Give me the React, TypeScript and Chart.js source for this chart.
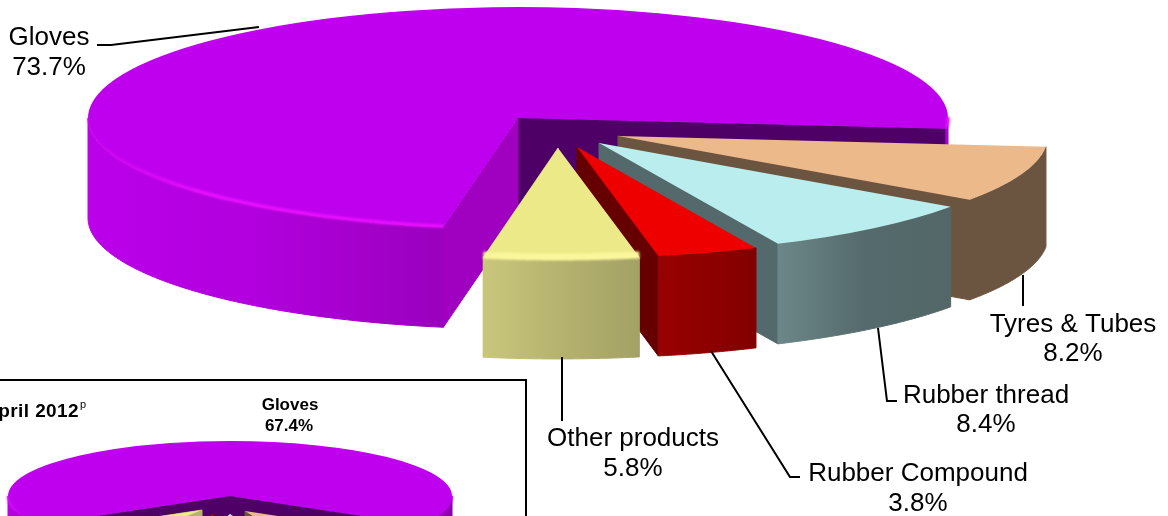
import React, { useEffect, useRef } from "react";
import { Chart } from "chart.js/auto";

// Full-year product shares
const productNames = ["Gloves", "Tyres & Tubes", "Rubber thread", "Rubber Compound", "Other products"];
const productShares = [73.7, 8.2, 8.4, 3.8, 5.8];
const shareLabels = ["73.7%", "8.2%", "8.4%", "3.8%", "5.8%"];

// Single-month product shares shown in the small panel
const monthShares = [67.4, 10.5, 10.0, 4.6, 7.5];
const monthTitle = "April 2012";
const monthGlovesLabel = "67.4%";

const topColors = ["#BE00EE", "#EBB98A", "#BAEDED", "#EE0000", "#ECEA88"];
const sideColors = ["#4E0066", "#6B5540", "#54696B", "#660000", "#B5B26F"];
const wallStops = [
  ["#BB00EA", "#B000DC", "#9A00BD"],
  ["#6B5540", "#6B5540"],
  ["#6C8789", "#556A6C", "#536769"],
  ["#990000", "#830000"],
  ["#C9C67C", "#B5B26F", "#A3A165"],
];

type PieStyle = {
  tilt: number;
  depth: number;
  cutColor: string;
  drift: number[][];
  rims: ({ stops: string[]; width: number; lift: number } | null)[];
  wallStops: string[][];
  sideColors: string[];
};

// Draws the extruded walls and rim highlights around the library's flat arcs,
// and squashes those arcs into an ellipse while they are painted.
function tiltedPie(style: PieStyle) {
  const { tilt, depth } = style;
  let pivot = 0;

  const project = (el: any, angle: number, drop = 0) => ({
    x: el.x + el.outerRadius * Math.cos(angle),
    y: pivot + tilt * (el.y + el.outerRadius * Math.sin(angle) - pivot) + drop,
  });
  const apex = (el: any, drop = 0) => ({ x: el.x, y: pivot + tilt * (el.y - pivot) + drop });

  const frontRanges = (el: any) => {
    const out: number[][] = [];
    for (let turn = 0; turn < 3; turn++) {
      const a = Math.max(el.startAngle, turn * 2 * Math.PI);
      const b = Math.min(el.endAngle, turn * 2 * Math.PI + Math.PI);
      if (b > a) out.push([a, b]);
    }
    return out;
  };
  const sample = (a: number, b: number) => {
    const n = 72;
    return Array.from({ length: n + 1 }, (_, i) => a + ((b - a) * i) / n);
  };
  const edgeWall = (ctx: CanvasRenderingContext2D, el: any, angle: number, color: string) => {
    const p = apex(el);
    const q = project(el, angle);
    ctx.fillStyle = color;
    ctx.strokeStyle = color;
    ctx.lineWidth = 1;
    ctx.beginPath();
    ctx.moveTo(p.x, p.y);
    ctx.lineTo(q.x, q.y);
    ctx.lineTo(q.x, q.y + depth);
    ctx.lineTo(p.x, p.y + depth);
    ctx.closePath();
    ctx.fill();
    ctx.stroke();
  };
  const xGradient = (ctx: CanvasRenderingContext2D, pts: { x: number }[], stops: string[]) => {
    const xs = pts.map((p) => p.x);
    const g = ctx.createLinearGradient(Math.min(...xs), 0, Math.max(...xs) + 0.01, 0);
    stops.forEach((c, i) => g.addColorStop(i / (stops.length - 1), c));
    return g;
  };

  return {
    id: "tiltedPie",
    afterDatasetsUpdate(chart: any) {
      const arcs = chart.getDatasetMeta(0).data;
      pivot = arcs[0].y;
      arcs.forEach((el: any, i: number) => {
        el.x += style.drift[i][0];
        el.y += style.drift[i][1] / tilt;
      });
    },
    beforeDatasetsDraw(chart: any) {
      const { ctx } = chart;
      const arcs = chart.getDatasetMeta(0).data;
      arcs.forEach((el: any, i: number) => {
        edgeWall(ctx, el, el.endAngle, style.sideColors[i]);
        if (i === 0) edgeWall(ctx, el, el.startAngle, style.cutColor);
        frontRanges(el).forEach(([a, b]) => {
          const top = sample(a, b).map((t) => project(el, t));
          const paint = xGradient(ctx, top, style.wallStops[i]);
          ctx.fillStyle = paint;
          ctx.strokeStyle = paint;
          ctx.lineWidth = 1;
          ctx.beginPath();
          top.forEach((p, k) => (k ? ctx.lineTo(p.x, p.y) : ctx.moveTo(p.x, p.y)));
          [...top].reverse().forEach((p) => ctx.lineTo(p.x, p.y + depth));
          ctx.closePath();
          ctx.fill();
          ctx.stroke();
        });
      });
      ctx.save();
      ctx.translate(0, pivot);
      ctx.scale(1, tilt);
      ctx.translate(0, -pivot);
    },
    afterDatasetsDraw(chart: any) {
      const { ctx } = chart;
      ctx.restore();
      const arcs = chart.getDatasetMeta(0).data;
      arcs.forEach((el: any, i: number) => {
        const rim = style.rims[i];
        if (!rim) return;
        frontRanges(el).forEach(([a, b]) => {
          const pts = sample(a, b).map((t) => project(el, t, rim.lift));
          ctx.save();
          ctx.filter = "blur(0.8px)";
          ctx.strokeStyle = xGradient(ctx, pts, rim.stops);
          ctx.lineWidth = rim.width;
          ctx.lineCap = "butt";
          ctx.beginPath();
          pts.forEach((p, k) => (k ? ctx.lineTo(p.x, p.y) : ctx.moveTo(p.x, p.y)));
          ctx.stroke();
          ctx.restore();
        });
      });
    },
  };
}

const LABEL_FONT = '26px "Liberation Sans", Arial, sans-serif';

// Callout text and leader lines for the main pie
const calloutLayout = [
  { x: 49, y: 38, vy: 68, line: [[97, 45], [111, 45], [259, 27]] },
  { x: 1073, y: 324.5, vy: 354, line: [[1023, 275], [1023, 306]] },
  { x: 986, y: 396, vy: 425, line: [[878, 328], [887, 401], [897, 401]] },
  { x: 918, y: 474, vy: 504, line: [[711, 351], [790, 477], [800, 477]] },
  { x: 633, y: 439, vy: 469, line: [[562, 357], [562, 421]] },
];

const callouts = {
  id: "callouts",
  afterDraw(chart: any) {
    const { ctx } = chart;
    ctx.save();
    ctx.fillStyle = "#000";
    ctx.strokeStyle = "#000";
    ctx.lineWidth = 2;
    ctx.font = LABEL_FONT;
    ctx.textAlign = "center";
    ctx.textBaseline = "middle";
    productNames.forEach((name, i) => {
      const c = calloutLayout[i];
      ctx.fillText(name, c.x, c.y);
      ctx.fillText(shareLabels[i], c.x, c.vy);
      ctx.beginPath();
      c.line.forEach(([x, y], k) => (k ? ctx.lineTo(x, y) : ctx.moveTo(x, y)));
      ctx.stroke();
    });
    ctx.restore();
  },
};

const panelText = {
  id: "panelText",
  afterDraw(chart: any) {
    const { ctx } = chart;
    ctx.save();
    ctx.fillStyle = "#000";
    ctx.textBaseline = "middle";
    ctx.textAlign = "right";
    ctx.font = 'bold 19px "Liberation Sans", Arial, sans-serif';
    (ctx as any).letterSpacing = "0.4px";
    ctx.fillText(monthTitle, 79, 31);
    (ctx as any).letterSpacing = "0px";
    ctx.textAlign = "left";
    ctx.font = '11px "Liberation Sans", Arial, sans-serif';
    ctx.fillText("p", 80, 24);
    ctx.textAlign = "center";
    ctx.font = 'bold 17px "Liberation Sans", Arial, sans-serif';
    ctx.fillText(productNames[0], 290, 24);
    ctx.fillText(monthGlovesLabel, 289, 45);
    ctx.restore();
  },
};

const mainStyle: PieStyle = {
  tilt: 0.258,
  depth: 100,
  cutColor: "#A000C0",
  drift: [[0, 0], [100, 18], [81, 25], [59, 29], [40, 30]],
  rims: [
    { stops: ["rgba(236,16,255,0.1)", "#EA10FF", "#EA10FF", "#EA10FF"], width: 3.5, lift: -1 },
    null,
    null,
    null,
    { stops: ["#F9F69C", "#F9F69C"], width: 7, lift: -2 },
  ],
  wallStops,
  sideColors,
};

const panelStyle: PieStyle = {
  tilt: 0.248,
  depth: 34,
  cutColor: "#4E0066",
  drift: [[0, 0], [15, 15], [0, 18], [-15, 18], [-28, 14]],
  rims: [{ stops: ["#E010FF", "#D000F8", "#BE00EE", "#BE00EE"], width: 2, lift: 0 }, null, null, null, null],
  wallStops: [["#BB00EA", "#8A00A8"], ...wallStops.slice(1)],
  sideColors,
};

function buildPie(
  canvas: HTMLCanvasElement,
  values: number[],
  radius: number,
  rotation: number,
  padding: object,
  plugins: any[],
) {
  return new Chart(canvas, {
    type: "pie",
    data: {
      labels: productNames,
      datasets: [{ data: values, backgroundColor: topColors, borderWidth: 0, clip: false, radius } as any],
    },
    options: {
      animation: false,
      responsive: false,
      devicePixelRatio: 1,
      rotation,
      layout: { padding },
      plugins: { legend: { display: false }, tooltip: { enabled: false } },
    } as any,
    plugins,
  });
}

export default function App() {
  const mainRef = useRef<HTMLCanvasElement>(null);
  const panelRef = useRef<HTMLCanvasElement>(null);

  useEffect(() => {
    const main = buildPie(mainRef.current!, productShares, 430, 190, { right: 132, bottom: 280 }, [
      tiltedPie(mainStyle),
      callouts,
    ]);
    const panel = buildPie(panelRef.current!, monthShares, 222, 238.7, { right: 64, bottom: 30 }, [
      tiltedPie(panelStyle),
      panelText,
    ]);
    return () => {
      main.destroy();
      panel.destroy();
    };
  }, []);

  return (
    <div style={{ position: "fixed", left: 0, top: 0, width: 1168, height: 516, overflow: "hidden", background: "#fff" }}>
      <canvas ref={mainRef} width={1168} height={516} style={{ position: "absolute", left: 0, top: 0, display: "block" }} />
      <div
        style={{
          position: "absolute",
          left: -2,
          top: 379,
          width: 525,
          height: 200,
          border: "2px solid #000",
          background: "#fff",
          overflow: "hidden",
        }}
      >
        <canvas ref={panelRef} width={524} height={260} style={{ position: "absolute", left: 0, top: 0, display: "block" }} />
      </div>
    </div>
  );
}
